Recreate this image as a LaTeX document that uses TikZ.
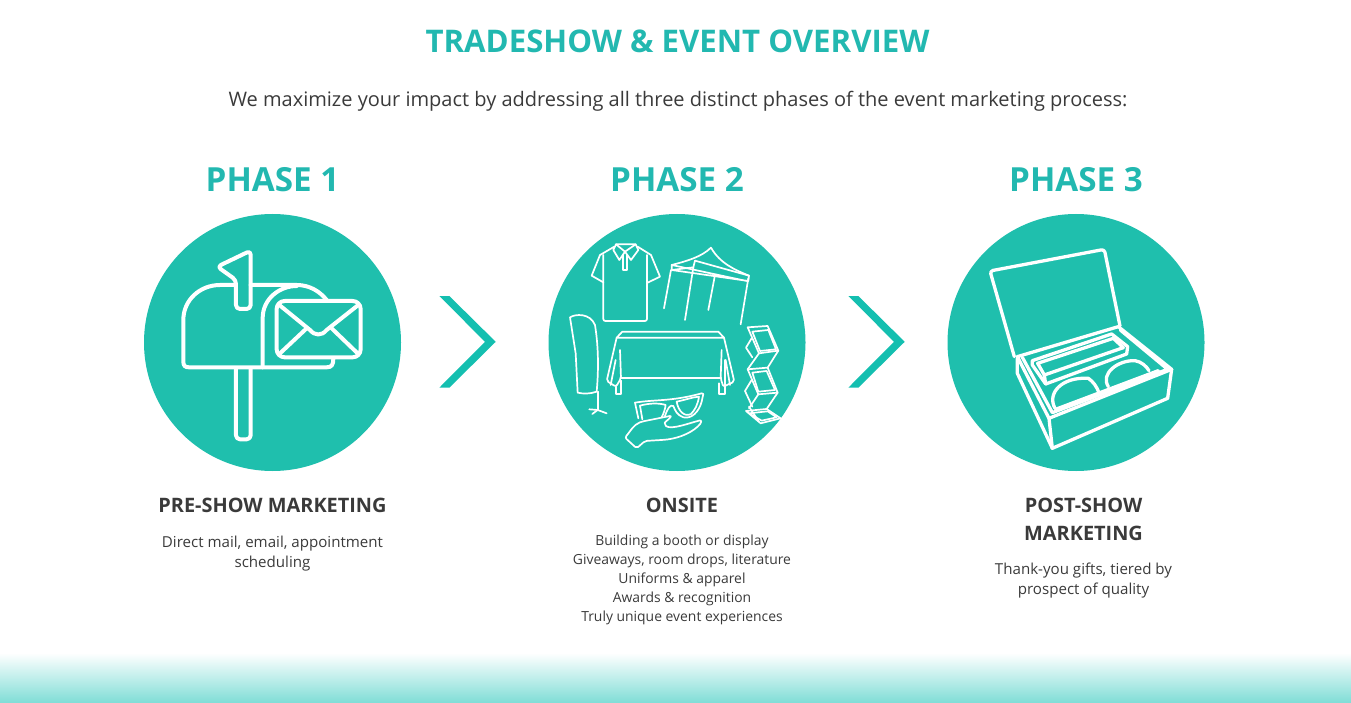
\documentclass[tikz,border=0pt]{standalone}
\usepackage{fontspec}
\setmainfont{Open Sans}
\definecolor{titleteal}{HTML}{22B8B0}
\definecolor{discteal}{HTML}{1FBFAD}
\definecolor{chevteal}{HTML}{14BFB0}
\definecolor{bandteal}{HTML}{7FDDD6}
\definecolor{darktext}{HTML}{3A3A3A}
\pgfdeclareverticalshading{bandfade}{100bp}{color(0bp)=(bandteal); color(25bp)=(bandteal); color(75bp)=(white); color(100bp)=(white)}
\tikzset{
  headtext/.style={text=titleteal,font=\fontsize{#1}{#1}\selectfont\bfseries,inner sep=0pt},
  subhead/.style={text=darktext,font=\fontsize{19.9}{28}\selectfont\bfseries,align=center,inner sep=0pt},
  smalltext/.style={text=darktext,font=\fontsize{15.1}{20}\selectfont,align=center,inner sep=0pt},
  listtext/.style={text=darktext,font=\fontsize{13.9}{19}\selectfont,align=center,inner sep=0pt},
  icon/.style={draw=white,line width=#1,line join=round,line cap=round}
}
\begin{document}
\begin{tikzpicture}[x=1pt,y=-1pt]
            \useasboundingbox (0,0) rectangle (1351,703);
            %fade at the bottom
            \fill[shading=bandfade] (0,653) rectangle (1351,703);
            %headings
            \node[headtext=31.2] (title) at (677.5,41.5) {TRADESHOW \& EVENT OVERVIEW};
            \node[text=darktext,font=\fontsize{20}{26}\selectfont,inner sep=0pt] (intro) at (678,101.5)
            {We maximize your impact by addressing all three distinct phases of the event marketing process:};
            %discs and phase names
            \foreach \cx/\n in {272.5/1,677/2,1076/3}{
            \fill[discteal] (\cx,342.5) circle [radius=128.5];
            \node[headtext=33.2] (phase\n) at (\cx,180) {PHASE \n};
            }
            %chevrons
            \foreach \cx in {439.3,848.3}
            \fill[chevteal] (\cx,296) -- (\cx+10,296) -- (\cx+56.4,341.8) -- (\cx+10,387.7)
            -- (\cx,387.7) -- (\cx+45.7,341.8) -- cycle;
            %text under the discs
            \node[subhead] (pre) at (272.5,505) {PRE-SHOW MARKETING};
            \node[smalltext] (predesc) at (272.5,553.5) {Direct mail, email, appointment\\scheduling};
            \node[subhead] (onsite) at (682,505) {ONSITE};
            \node[listtext] (onsitedesc) at (682,580)
            {Building a booth or display\\Giveaways, room drops, literature\\Uniforms \& apparel\\Awards \& recognition\\Truly unique event experiences};
            \node[subhead] (post) at (1083.5,519) {POST-SHOW\\MARKETING};
            \node[smalltext] (postdesc) at (1083.5,581) {Thank-you gifts, tiered by\\prospect of quality};
            %mailbox
            \begin{scope}[shift={(140,210)},x=0.3333pt,y=-0.3333pt,icon=4pt]
            \draw (288,225) -- (240,225) .. controls (180,225) and (130,270) .. (130,330) -- (130,455)
            .. controls (130,467) and (135,472) .. (147,472) -- (560,472) .. controls (575,472) and (580,465) .. (580,446);
            \draw (332,225) -- (470,225) .. controls (510,225) and (540,245) .. (560,270);
            \draw (368,472) -- (368,325) .. controls (368,265) and (420,228) .. (470,228);
            \draw[rounded corners=4pt] (288,297) -- (288,210) -- (232,170) -- (332,122) -- (332,297) -- cycle;
            \draw[rounded corners=4pt] (288,478) -- (288,688) -- (332,688) -- (332,478);
            \draw[rounded corners=8pt] (410,273) rectangle (662,442);
            \draw (418,285) -- (510,360) .. controls (525,378) and (545,378) .. (560,360) -- (655,285);
            \draw (418,432) -- (500,355);
            \draw (655,432) -- (575,355);
            \end{scope}
            %shirt, tent, banner, table, display and glasses
            \begin{scope}[shift={(545,210)},x=0.3333pt,y=-0.3333pt,icon=1.7pt]
            \draw[rounded corners=2pt] (175,135) -- (175,333) -- (306,333) -- (306,135);
            \draw (208,110) -- (165,135) -- (140,197) -- (175,217);
            \draw (278,110) -- (318,135) -- (345,200) -- (308,218);
            \draw (213,103) -- (205,120) -- (223,150) -- (240,125) -- (258,150) -- (280,120) -- (272,103) -- cycle;
            \draw (213,103) -- (240,125) -- (272,103);
            \draw (235,135) -- (235,180) -- (247,180) -- (247,135);
            \draw (380,165) .. controls (430,152) and (470,140) .. (498,113) .. controls (525,160) and (570,180) .. (612,197);
            \draw (450,152) -- (612,197) -- (610,213) -- (380,180) -- (380,165) -- (605,213);
            \draw (450,152) -- (445,172);
            \draw (380,180) -- (445,172);
            \draw (378,180) -- (357,295);
            \draw (445,172) -- (420,330);
            \draw (510,195) -- (490,300);
            \draw (610,205) -- (587,343);
            \draw (75,322) .. controls (90,312) and (135,308) .. (150,345) .. controls (162,420) and (160,490) .. (155,545)
            .. controls (135,552) and (115,552) .. (98,548) -- (92,430) -- cycle;
            \draw (158,545) -- (158,600);
            \draw (133,598) -- (158,600) -- (185,610);
            \draw (158,600) -- (142,612);
            \draw (215,383) -- (232,365) -- (520,365) -- (537,383) -- cycle;
            \draw[rounded corners=2pt] (215,383) -- (185,513) -- (213,530) -- (228,505) -- (225,420);
            \draw (228,505) -- (527,505);
            \draw[rounded corners=2pt] (537,383) -- (568,515) -- (535,530) -- (527,505) -- (530,420);
            \draw (212,450) -- (197,525);
            \draw (542,450) -- (555,525);
            \draw (212,530) -- (212,553) -- (228,553) -- (228,512);
            \draw (523,520) -- (523,552) -- (540,552) -- (540,450);
            \draw (608,352) -- (668,348) -- (700,422) -- (642,430) -- cycle;
            \draw (622,365) -- (670,360) -- (693,418) -- (645,423) -- cycle;
            \draw (620,385) -- (603,413) -- (622,442);
            \draw (642,430) -- (608,478);
            \draw (700,422) -- (668,473);
            \draw (608,478) -- (668,473) -- (698,548) -- (640,553) -- cycle;
            \draw (622,488) -- (665,483) -- (690,540) -- (640,545) -- cycle;
            \draw (620,510) -- (600,543) -- (622,590);
            \draw (640,553) -- (612,595);
            \draw (698,548) -- (665,597);
            \draw (603,603) -- (665,597) -- (707,625) -- (647,640) -- cycle;
            \draw (612,610) -- (668,604) -- (695,622) -- (650,632) -- cycle;
            \draw (612,590) -- (640,632);
            %glasses frame and lenses
            \draw (270,578) .. controls (330,568) and (380,575) .. (470,550) -- (475,552) -- (470,575)
            .. controls (462,605) and (440,628) .. (415,622) .. controls (395,615) and (390,600) .. (385,588)
            .. controls (375,583) and (368,595) .. (360,618);
            \draw (270,578) -- (280,625);
            \draw (285,587) .. controls (310,580) and (340,578) .. (362,585) .. controls (360,600) and (355,612) .. (350,622);
            \draw (285,587) -- (292,628);
            \draw (395,575) .. controls (420,570) and (440,562) .. (462,560) .. controls (458,585) and (450,600) .. (438,612)
            .. controls (420,622) and (400,605) .. (395,575) -- cycle;
            %hand
            \draw[rounded corners=2pt] (240,683) .. controls (255,665) and (265,645) .. (290,635) -- (380,617)
            .. controls (370,630) and (360,635) .. (358,645) .. controls (380,660) and (430,640) .. (470,630)
            .. controls (465,650) and (420,685) .. (350,690) -- (300,693) -- (275,715) -- cycle;
            \end{scope}
            %box
            \begin{scope}[shift={(945,210)},x=0.3333pt,y=-0.3333pt,icon=3.3pt]
            \draw[rounded corners=3pt] (208,440) -- (135,183) -- (478,118) -- (525,348);
            \draw (217,440) -- (520,350) -- (680,478) -- (312,625) -- cycle;
            \draw (232,442) -- (322,608) -- (668,478) -- (526,360);
            \draw (312,625) -- (322,715) -- (668,565) -- (680,478);
            \draw (217,445) -- (217,490) -- (322,715);
            \draw (262,452) -- (500,372) -- (548,410) -- (545,432) -- (302,522) -- (262,465) -- cycle;
            \draw (278,460) -- (505,385) -- (535,413) -- (298,495) -- cycle;
            \draw (298,495) -- (302,522);
            \draw (330,595) .. controls (305,550) and (350,500) .. (430,505) .. controls (445,515) and (455,530) .. (462,548);
            \draw (490,530) .. controls (465,490) and (520,450) .. (570,452) .. controls (590,455) and (605,470) .. (612,482);
            \draw (332,598) -- (640,482);
            \end{scope}
            \end{tikzpicture}
\end{document}
